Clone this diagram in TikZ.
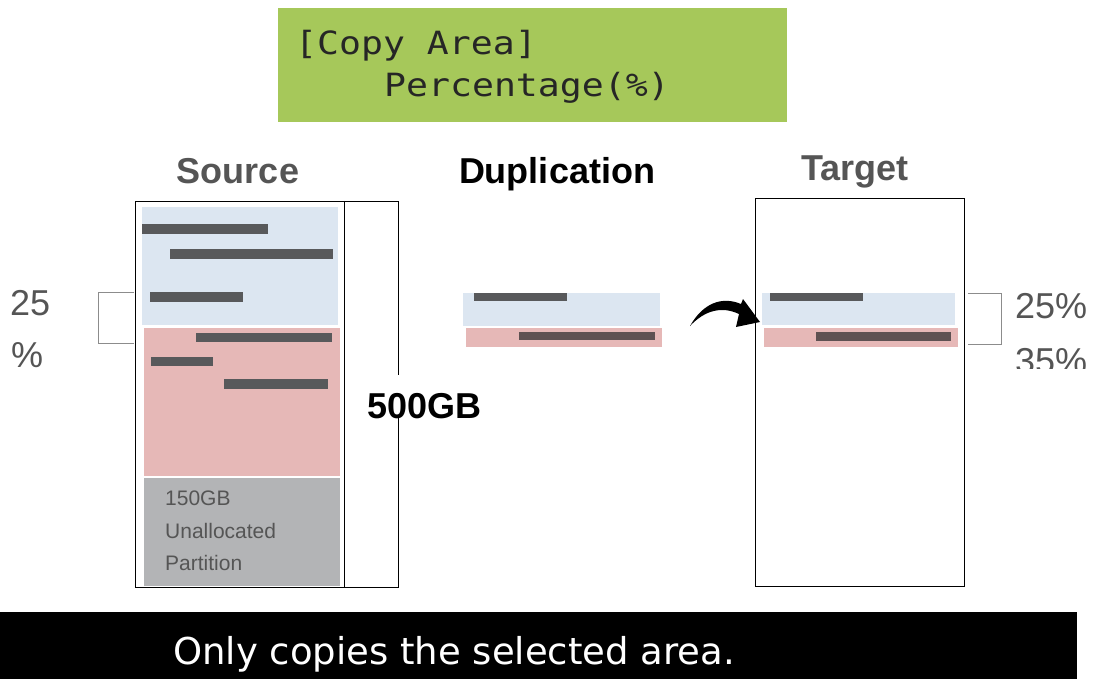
\documentclass[tikz,border=0pt]{standalone}
\usepackage{fontspec}
\setmainfont{Liberation Sans}
\newfontfamily\lcdfont{DejaVu Sans Mono}
\newfontfamily\capfont{DejaVu Sans}
\usetikzlibrary{arrows.meta}
\definecolor{lcdgreen}{HTML}{A6C85A}
\definecolor{blueA}{HTML}{DCE6F1}
\definecolor{pinkA}{HTML}{E6B8B7}
\definecolor{grayA}{HTML}{B3B4B6}
\definecolor{barc}{HTML}{58595B}
\definecolor{barp}{HTML}{5E5152}
\definecolor{txtgray}{HTML}{555555}
\definecolor{brk}{HTML}{8C8C8C}
\begin{document}
\begin{tikzpicture}[x=1pt,y=-1pt,
  title/.style={font=\fontsize{36}{40}\selectfont\bfseries, anchor=base, inner sep=0pt},
  pct/.style={font=\fontsize{36}{40}\selectfont, text=txtgray, anchor=base west, inner sep=0pt},
  small/.style={font=\fontsize{21}{24}\selectfont, text=txtgray, anchor=base west, inner sep=0pt},
  lcd/.style={font=\lcdfont\fontsize{32}{36}\selectfont, text=black!85, anchor=base west, inner sep=0pt},
  disk/.style={draw=black, line width=0.9pt},
  bracket/.style={draw=brk, line width=1pt}]
\useasboundingbox (0,0) rectangle (1098,679);

% LCD panel
\fill[lcdgreen] (278,8) rectangle (787,122);
\node[lcd] (lcd1) at (295,55) {\scalebox{1.14}[1]{[Copy Area]}};
\node[lcd] (lcd2) at (384,97) {\scalebox{1.14}[1]{Percentage(\%)}};

% titles
\node[title, text=txtgray] (src) at (238,184) {Source};
\node[title, text=black] (dup) at (557,184) {Duplication};
\node[title, text=txtgray] (tgt) at (855,181) {Target};

% Source disk
\fill[blueA] (142,207) rectangle (338,325);
\fill[pinkA] (144,328) rectangle (340,476);
\fill[grayA] (144,478) rectangle (340,586);
\fill[barc] (142,224) rectangle (268,234);
\fill[barc] (170,249) rectangle (333,259);
\fill[barc] (150,292) rectangle (243,302);
\fill[barc] (196,333) rectangle (332,342);
\fill[barc] (151,357) rectangle (213,366);
\fill[barc] (224,379) rectangle (328,389);
\draw[disk] (344,201) -- (135,201) -- (135,587) -- (344,587);
\draw[disk] (344,201) -- (344,587);
\draw[disk] (344,201) -- (398,201) -- (398,375);
\draw[disk] (398,418) -- (398,587) -- (344,587);
\node[small] (u1) at (165,505) {150GB};
\node[small] (u2) at (165,538) {Unallocated};
\node[small] (u3) at (165,570) {Partition};
\node[title, anchor=base west, text=black] (size) at (367,418) {500GB};

% left bracket
\draw[bracket] (134,292) -- (98,292) -- (98,343) -- (134,343);
\node[pct] (l25) at (10,315) {25};
\node[pct] (lpc) at (11,367) {\%};

% duplication strips
\fill[blueA] (463,293) rectangle (660,326);
\fill[pinkA] (466,328) rectangle (662,347);
\fill[barc] (474,293) rectangle (567,301);
\fill[barp] (519,332) rectangle (655,340);

% Target disk
\fill[blueA] (762,293) rectangle (955,325);
\fill[pinkA] (764,328) rectangle (958,347);
\fill[barc] (770,293) rectangle (863,301);
\fill[barp] (816,332) rectangle (951,341);
\draw[disk] (755,198) rectangle (964,586);
\coordinate (tgtin) at (760,322);

% arrow (swoosh)
\coordinate (arrfrom) at (690,326);
\fill[black] (arrfrom) .. controls (703,303) and (722,296) .. (741,304)
  -- (743,299) -- (760,322) -- (736,327) -- (739,314)
  .. controls (722,306) and (705,310) .. (arrfrom) -- cycle;

% right bracket
\draw[bracket] (968,293) -- (1001,293) -- (1001,344) -- (968,344);
\node[pct] (r25) at (1015,318) {25\%};
\begin{scope}
\clip (1000,330) rectangle (1098,368);
\node[pct] (r35) at (1015,373) {35\%};
\end{scope}

% caption bar
\fill[black] (0,612) rectangle (1077,679);
\node[font=\capfont\fontsize{37}{40}\selectfont, text=white, anchor=base west, inner sep=0pt] (cap) at (173,664) {Only copies the selected area.};
\end{tikzpicture}
\end{document}
